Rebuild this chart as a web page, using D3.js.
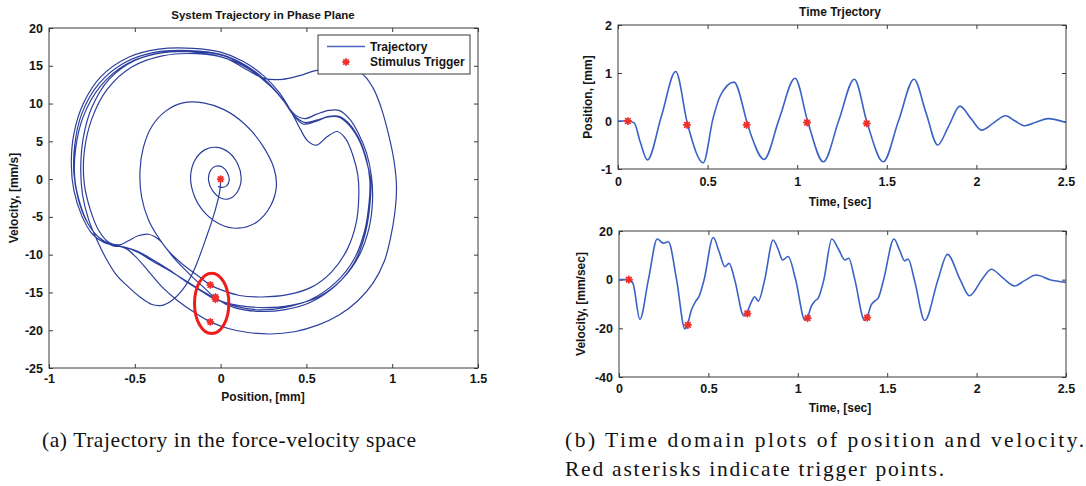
<!DOCTYPE html>
<html><head><meta charset="utf-8">
<script src="https://cdn.jsdelivr.net/npm/d3@7"></script>
<style>
html,body{margin:0;padding:0;background:#fff;}
svg{display:block;}
</style></head><body>
<svg id="chart" width="1086" height="486"></svg>
<script>
// ---------------- DATA ----------------
const phaseXTicks = [-1, -0.5, 0, 0.5, 1, 1.5];
const phaseYTicks = [-25, -20, -15, -10, -5, 0, 5, 10, 15, 20];
const timeTicks = [0, 0.5, 1, 1.5, 2, 2.5];
const posTicks = [-1, 0, 1, 2];
const velTicks = [-40, -20, 0, 20];

// Phase-plane trajectory [position mm, velocity mm/s], in time order
const phasePulse1 = [[0,0],[-0.004,-1.5],[-0.03,-4],[-0.08,-7.5],[-0.16,-12.3],[-0.22,-14.6],[-0.28,-16.0],[-0.34,-16.7],[-0.40,-16.6],[-0.47,-15.6],[-0.55,-14.0],[-0.61,-12.6],[-0.67,-10.4],[-0.72,-8.1],[-0.77,-5.3],[-0.805,-2.0],[-0.815,1.5],[-0.80,5.5],[-0.75,9.5],[-0.65,13.2],[-0.50,15.7],[-0.32,16.8],[-0.12,16.7],[0.04,15.9],[0.15,14.5],[0.26,13.3],[0.36,13.2],[0.46,13.7],[0.56,14.4],[0.70,14.6],[0.82,14.0],[0.885,12.2],[0.935,9.5],[0.98,5.8],[1.01,2.5],[1.025,-1.0],[1.015,-4.5],[0.99,-7.8],[0.955,-10.8],[0.89,-13.7],[0.80,-16.1],[0.69,-18.0],[0.57,-19.3],[0.43,-20.2],[0.29,-20.5],[0.16,-20.3],[0.05,-19.8],[-0.06,-18.9]];
const phaseCycle2 = [[-0.15,-17.7],[-0.25,-16.1],[-0.34,-14.3],[-0.42,-12.2],[-0.49,-10.4],[-0.55,-9.2],[-0.61,-8.8],[-0.68,-8.4],[-0.75,-7.2],[-0.81,-4.8],[-0.855,-1.5],[-0.87,2],[-0.855,6],[-0.80,10],[-0.70,13.5],[-0.54,16.1],[-0.36,17.2],[-0.16,17.3],[0.0,16.8],[0.13,15.6],[0.25,13.7],[0.34,11.5],[0.41,9.0],[0.46,6.8],[0.51,5.0],[0.56,4.5],[0.62,5.6],[0.68,6.3],[0.73,5.3],[0.77,3.2],[0.80,0.5],[0.805,-2.5],[0.79,-5.8],[0.74,-9.2],[0.65,-12.2],[0.53,-14.3],[0.39,-15.3],[0.24,-15.6],[0.11,-15.4],[0.02,-14.8],[-0.06,-14.0]];
const phaseCycle3 = [[-0.12,-13.0],[-0.18,-12.0],[-0.24,-10.9],[-0.30,-9.6],[-0.36,-8.0],[-0.42,-7.3],[-0.48,-7.5],[-0.54,-8.2],[-0.59,-8.7],[-0.65,-8.4],[-0.71,-6.8],[-0.76,-4.0],[-0.795,-0.5],[-0.795,3.5],[-0.75,8.0],[-0.66,11.9],[-0.52,14.8],[-0.34,16.3],[-0.14,16.6],[0.03,16.0],[0.17,14.5],[0.29,12.3],[0.37,10.3],[0.43,8.6],[0.49,8.0],[0.56,8.6],[0.63,9.1],[0.69,9.1],[0.75,8.0],[0.80,6.2],[0.85,3.5],[0.88,0.2],[0.885,-3.0],[0.865,-6.5],[0.81,-10.0],[0.71,-13.2],[0.57,-15.6],[0.41,-16.7],[0.25,-17.0],[0.10,-16.7],[-0.03,-15.9]];
const phaseCycle4 = [[-0.10,-15.0],[-0.20,-13.6],[-0.30,-12.0],[-0.40,-10.6],[-0.48,-9.6],[-0.56,-9.0],[-0.63,-8.7],[-0.70,-7.9],[-0.77,-6.0],[-0.82,-3.2],[-0.85,0.2],[-0.845,4.0],[-0.80,8.3],[-0.70,12.3],[-0.55,15.2],[-0.37,16.6],[-0.17,16.9],[0.02,16.3],[0.17,14.6],[0.29,12.4],[0.37,10.3],[0.43,8.4],[0.49,7.5],[0.56,7.8],[0.63,8.3],[0.69,8.3],[0.75,7.3],[0.81,5.2],[0.85,2.6],[0.87,-0.2],[0.865,-3.2],[0.84,-6.8],[0.78,-10.5],[0.67,-13.7],[0.52,-16.0],[0.37,-17.0],[0.23,-17.3],[0.10,-16.9],[-0.03,-15.8]];
const phaseCycle5 = [[-0.10,-14.9],[-0.20,-13.5],[-0.30,-12.1],[-0.40,-10.8],[-0.48,-9.7],[-0.56,-9.0],[-0.63,-8.8],[-0.71,-7.7],[-0.78,-5.6],[-0.83,-2.6],[-0.855,0.8],[-0.85,4.5],[-0.81,8.6],[-0.71,12.6],[-0.56,15.4],[-0.38,16.8],[-0.18,17.0],[0.0,16.5],[0.15,15.0],[0.27,12.9],[0.36,10.6],[0.42,8.6],[0.48,7.3],[0.55,7.6],[0.62,8.2],[0.69,8.2],[0.75,7.1],[0.81,5.0],[0.85,2.4],[0.875,-0.3],[0.87,-3.4],[0.845,-7.0],[0.785,-10.8],[0.675,-14.0],[0.525,-16.3],[0.37,-17.3],[0.22,-17.5],[0.08,-17.0],[-0.02,-15.9],[-0.10,-14.3]];
const phaseTail = [[-0.18,-12.6],[-0.27,-10.5],[-0.36,-7.8],[-0.42,-5.4],[-0.46,-2.4],[-0.47,1.0],[-0.45,4.2],[-0.40,7.0],[-0.32,9.0],[-0.22,10.1],[-0.10,10.1],[0.02,9.2],[0.14,7.3],[0.24,4.6],[0.31,1.5],[0.325,-1.0],[0.29,-3.6],[0.21,-5.7],[0.10,-6.5],[0.0,-6.0],[-0.09,-4.5],[-0.15,-2.4],[-0.175,0.2],[-0.15,2.5],[-0.09,3.9],[-0.02,4.2],[0.05,3.5],[0.10,2.0],[0.12,0.1],[0.10,-1.6],[0.05,-2.6],[0.0,-2.5],[-0.045,-1.6],[-0.07,-0.2],[-0.06,1.1],[-0.03,1.7],[0.01,1.6],[0.04,0.8],[0.05,-0.2],[0.035,-0.9],[0.01,-1.1],[-0.015,-1.0]];

// Trigger points in the phase plane
const phaseTriggerPos = [0, -0.06, -0.06, -0.03, -0.03];
const phaseTriggerVel = [0, -18.9, -14.0, -15.9, -15.6];
// Highlight ellipse (data units): centre and radii
const ellipseCentre = [-0.052, -16.45];
const ellipseRadii = [0.1, 4.0];

// Time-domain position
const posTime  = [0, 0.055, 0.09, 0.125, 0.164, 0.243, 0.322, 0.389, 0.476, 0.53, 0.569, 0.647, 0.724, 0.746, 0.815, 0.90, 0.988, 1.06, 1.146, 1.232, 1.319, 1.391, 1.48, 1.566, 1.652, 1.718, 1.784, 1.846, 1.908, 1.968, 2.029, 2.096, 2.163, 2.216, 2.27, 2.335, 2.40, 2.5];
const posValue = [0, 0, -0.04, -0.45, -0.81, 0.11, 1.03, -0.08, -0.87, 0.05, 0.51, 0.81, -0.08, -0.33, -0.80, 0.05, 0.89, -0.03, -0.85, 0.01, 0.87, -0.05, -0.85, 0.01, 0.87, 0.18, -0.50, -0.10, 0.31, 0.06, -0.19, -0.04, 0.11, 0.0, -0.10, -0.02, 0.05, -0.03];

// Time-domain velocity
const velTime  = [0, 0.055, 0.078, 0.117, 0.165, 0.214, 0.248, 0.276, 0.322, 0.369, 0.383, 0.405, 0.428, 0.447, 0.476, 0.527, 0.56, 0.592, 0.616, 0.647, 0.698, 0.713, 0.74, 0.759, 0.779, 0.815, 0.862, 0.89, 0.915, 0.946, 0.988, 1.04, 1.053, 1.075, 1.095, 1.115, 1.146, 1.19, 1.228, 1.263, 1.285, 1.319, 1.374, 1.387, 1.41, 1.43, 1.45, 1.48, 1.538, 1.57, 1.598, 1.617, 1.652, 1.71, 1.784, 1.837, 1.908, 1.96, 2.029, 2.082, 2.15, 2.212, 2.27, 2.333, 2.41, 2.5];
const velValue = [0, 0, -1.5, -16.3, 0.2, 16.7, 15.0, 15.6, 0, -20.3, -18.4, -12.5, -9.0, -7.0, 0, 17.3, 11.5, 5.3, 6.7, 0, -14.8, -13.8, -9.2, -7.0, -8.8, 0, 16.3, 12.5, 8.1, 9.5, 0, -16.6, -15.8, -11.0, -8.8, -7.5, 0, 16.7, 12.5, 8.1, 8.8, 0, -16.8, -15.6, -10.5, -8.8, -7.5, 0, 16.7, 12.0, 7.7, 8.5, 0, -16.8, 0, 10.4, 0, -6.6, 0, 4.3, 0.5, -2.6, -0.3, 1.9, 0, -1.1];

// Trigger points in time domain
const triggerTimes = [0.055, 0.385, 0.718, 1.055, 1.388];
const triggerPos = [0, -0.08, -0.08, -0.03, -0.05];
const triggerVel = [0, -18.6, -13.9, -15.8, -15.6];

// ---------------- DRAWING ----------------
const svg = d3.select("#chart");
const SANS = '"Liberation Sans", Arial, Helvetica, sans-serif';
const SERIF = '"Liberation Serif", "DejaVu Serif", serif';
const AXIS_COLOR = "#3a3a3a";
const TEXT_COLOR = "#151515";
const PHASE_COLOR = "#2d3f9e";
const TIME_COLOR = "#3a62c6";
const RED = "#f0302a";

function drawAxes(x, y, xTicks, yTicks, xPad, yPad) {
  const g = svg.append("g");
  const [x0, x1] = x.range();
  const [y0, y1] = y.range();
  const fmt = d => String(d);
  g.append("rect").attr("x", x0).attr("y", y1).attr("width", x1 - x0).attr("height", y0 - y1)
    .attr("fill", "none").attr("stroke", AXIS_COLOR).attr("stroke-width", 1);
  g.append("g").attr("transform", `translate(0,${y0})`)
    .call(d3.axisBottom(x).tickValues(xTicks).tickSizeInner(-4).tickSizeOuter(0).tickPadding(xPad).tickFormat(fmt));
  g.append("g").attr("transform", `translate(0,${y1})`)
    .call(d3.axisTop(x).tickValues(xTicks).tickSizeInner(-4).tickSizeOuter(0).tickFormat(""));
  g.append("g").attr("transform", `translate(${x0},0)`)
    .call(d3.axisLeft(y).tickValues(yTicks).tickSizeInner(-4).tickSizeOuter(0).tickPadding(yPad).tickFormat(fmt));
  g.append("g").attr("transform", `translate(${x1},0)`)
    .call(d3.axisRight(y).tickValues(yTicks).tickSizeInner(-4).tickSizeOuter(0).tickFormat(""));
  g.selectAll(".domain").remove();
  g.selectAll(".tick line").attr("stroke", AXIS_COLOR);
  g.selectAll(".tick text").attr("fill", TEXT_COLOR).attr("font-size", 12.5).attr("font-weight", "bold")
    .attr("font-family", SANS);
  return g;
}

function label(txt, x, y, rot, size) {
  const t = svg.append("text").attr("x", x).attr("y", y).attr("text-anchor", "middle")
    .attr("dominant-baseline", "central").attr("fill", TEXT_COLOR).attr("font-family", SANS)
    .attr("font-size", size || 12).attr("font-weight", "bold").text(txt);
  if (rot) t.attr("transform", `rotate(${rot},${x},${y})`);
  return t;
}

function asterisk(sel, r) {
  const d = r * 0.72;
  sel.append("path")
    .attr("d", `M${-r},0L${r},0M0,${-r}L0,${r}M${-d},${-d}L${d},${d}M${-d},${d}L${d},${-d}`)
    .attr("stroke", RED).attr("stroke-width", 1.8).attr("fill", "none").attr("stroke-linecap", "round");
}

// ---- Phase plane ----
const xP = d3.scaleLinear().domain([-1, 1.5]).range([49, 478]);
const yP = d3.scaleLinear().domain([-25, 20]).range([368, 28]);
drawAxes(xP, yP, phaseXTicks, phaseYTicks, 6, 6);

const trajectory = [].concat(phasePulse1, phaseCycle2, phaseCycle3, phaseCycle4, phaseCycle5, phaseTail);
const phaseLine = d3.line().x(d => xP(d[0])).y(d => yP(d[1])).curve(d3.curveCatmullRom.alpha(0.5));
svg.append("path").datum(trajectory).attr("d", phaseLine)
  .attr("fill", "none").attr("stroke", PHASE_COLOR).attr("stroke-width", 1.2);

d3.zip(phaseTriggerPos, phaseTriggerVel).forEach(p => {
  asterisk(svg.append("g").attr("transform", `translate(${xP(p[0])},${yP(p[1])})`), 3);
});

svg.append("ellipse")
  .attr("cx", xP(ellipseCentre[0])).attr("cy", yP(ellipseCentre[1]))
  .attr("rx", xP(ellipseRadii[0]) - xP(0)).attr("ry", yP(0) - yP(ellipseRadii[1]))
  .attr("fill", "none").attr("stroke", "#ee1c1c").attr("stroke-width", 3);

// legend
const lg = svg.append("g");
lg.append("rect").attr("x", 318).attr("y", 35).attr("width", 152).attr("height", 39)
  .attr("fill", "#fff").attr("stroke", AXIS_COLOR).attr("stroke-width", 1);
lg.append("line").attr("x1", 327).attr("x2", 365).attr("y1", 46.5).attr("y2", 46.5)
  .attr("stroke", "#4a66c2").attr("stroke-width", 1.3);
asterisk(lg.append("g").attr("transform", "translate(346,62)"), 3);
lg.append("text").attr("x", 370).attr("y", 47).attr("dominant-baseline", "central").attr("font-family", SANS)
  .attr("font-size", 12).attr("font-weight", "bold").attr("fill", TEXT_COLOR).text("Trajectory");
lg.append("text").attr("x", 370).attr("y", 62).attr("dominant-baseline", "central").attr("font-family", SANS)
  .attr("font-size", 12).attr("font-weight", "bold").attr("fill", TEXT_COLOR).text("Stimulus Trigger");

label("System Trajectory in Phase Plane", 263, 15, 0, 11.5);
label("Position, [mm]", 263, 397, 0, 12);
label("Velocity, [mm/s]", 14, 198, -90, 12);

// ---- Position vs time ----
const xT1 = d3.scaleLinear().domain([0, 2.5]).range([618, 1066]);
const yT1 = d3.scaleLinear().domain([-1, 2]).range([169, 25]);
drawAxes(xT1, yT1, timeTicks, posTicks, 8, 6);
const posLine = d3.line().x(d => xT1(d[0])).y(d => yT1(d[1])).curve(d3.curveMonotoneX);
svg.append("path").datum(d3.zip(posTime, posValue)).attr("d", posLine)
  .attr("fill", "none").attr("stroke", TIME_COLOR).attr("stroke-width", 1.6);
d3.zip(triggerTimes, triggerPos).forEach(p => {
  asterisk(svg.append("g").attr("transform", `translate(${xT1(p[0])},${yT1(p[1])})`), 3.2);
});
label("Time Trjectory", 840, 12, 0, 12);
label("Time, [sec]", 840, 202, 0, 12);
label("Position, [mm]", 588, 97, -90, 12);

// ---- Velocity vs time ----
const xT2 = d3.scaleLinear().domain([0, 2.5]).range([619, 1066]);
const yT2 = d3.scaleLinear().domain([-40, 20]).range([377, 231]);
drawAxes(xT2, yT2, timeTicks, velTicks, 7, 6);
const velLine = d3.line().x(d => xT2(d[0])).y(d => yT2(d[1])).curve(d3.curveMonotoneX);
svg.append("path").datum(d3.zip(velTime, velValue)).attr("d", velLine)
  .attr("fill", "none").attr("stroke", TIME_COLOR).attr("stroke-width", 1.6);
d3.zip(triggerTimes, triggerVel).forEach(p => {
  asterisk(svg.append("g").attr("transform", `translate(${xT2(p[0])},${yT2(p[1])})`), 3.2);
});
label("Time, [sec]", 840, 408, 0, 12);
label("Velocity, [mm/sec]", 581, 304, -90, 12);

// ---- Captions ----
function caption(txt, x, y, len) {
  svg.append("text").attr("x", x).attr("y", y).attr("fill", "#111")
    .attr("font-family", SERIF).attr("font-size", 21.5)
    .attr("textLength", len).attr("lengthAdjust", "spacing").text(txt);
}
caption("(a) Trajectory in the force-velocity space", 42, 447, 374);
caption("(b) Time domain plots of position and velocity.", 565, 447, 519);
caption("Red asterisks indicate trigger points.", 565, 476, 379);
</script></body></html>
